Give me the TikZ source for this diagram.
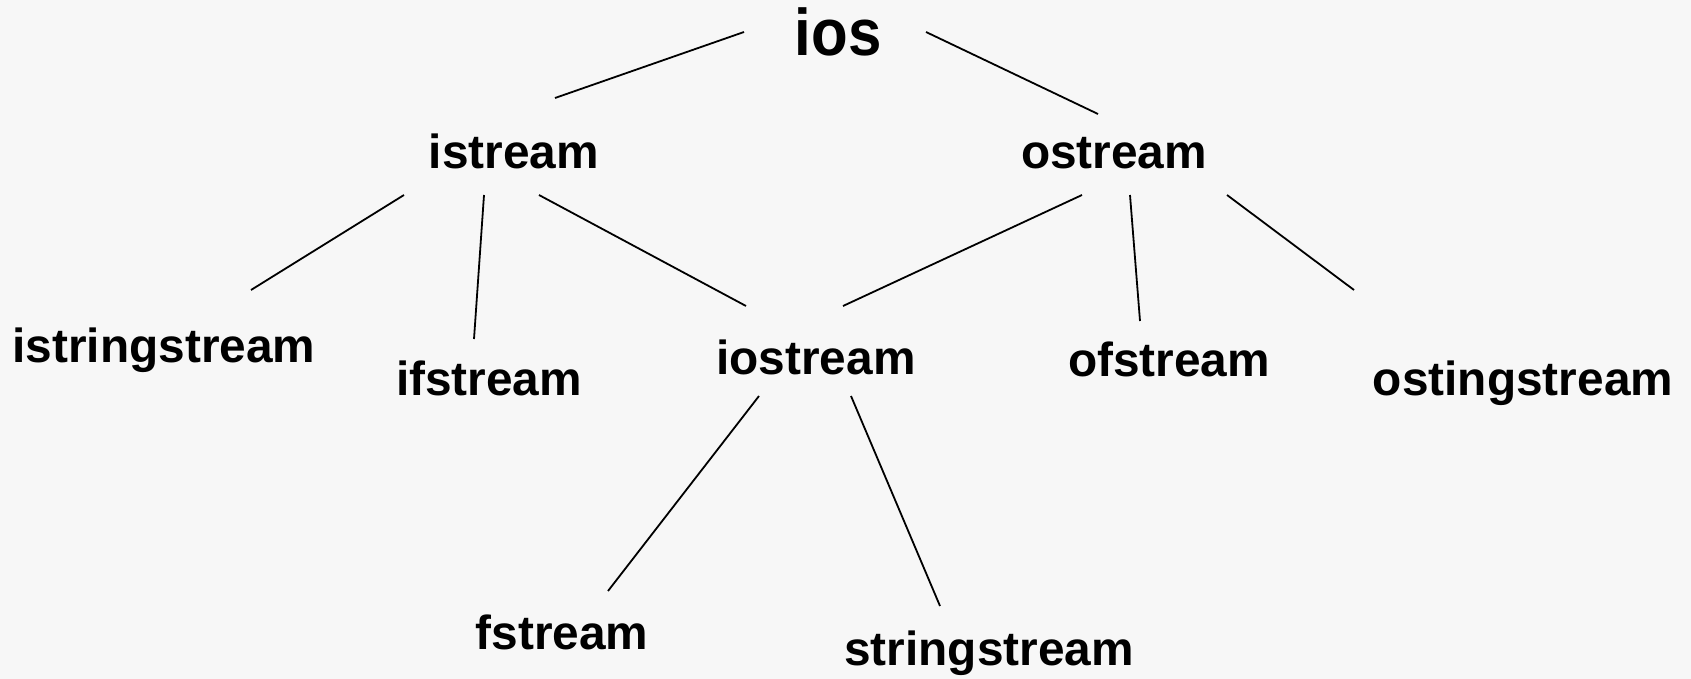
\documentclass[tikz,border=0pt]{standalone}
\usepackage{fontspec}
\setmainfont{Liberation Sans}
\definecolor{paper}{RGB}{247,247,247}
\begin{document}
\begin{tikzpicture}[x=1pt,y=-1pt,
  cls/.style={anchor=base,inner sep=0pt,font=\fontsize{47.8}{50}\selectfont\bfseries},
  root/.style={anchor=base,inner sep=0pt,font=\fontsize{60}{64}\selectfont\bfseries},
  link/.style={line width=1.8pt,black}]
  % page
  \fill[paper] (0,0) rectangle (1691,679);
  \useasboundingbox (0,0) rectangle (1691,679);

  % class names (base anchors at each text baseline)
  \node[root] (ios) at (838,56) {\scalebox{1}[1.1]{ios}};
  \node[cls] (istream) at (514,169) {istream};
  \node[cls] (ostream) at (1114,169) {ostream};
  \node[cls] (istringstream) at (164,362) {istringstream};
  \node[cls] (ifstream) at (489,395) {ifstream};
  \node[cls] (iostream) at (816,374) {iostream};
  \node[cls] (ofstream) at (1169,376) {ofstream};
  \node[cls] (ostingstream) at (1523,395) {ostingstream};
  \node[cls] (fstream) at (562,649) {fstream};
  \node[cls] (stringstream) at (989,665) {stringstream};

  % line ends
  \coordinate (ios-l) at (744,32);
  \coordinate (ios-r) at (926,32);
  \coordinate (istream-t) at (555,98);
  \coordinate (ostream-t) at (1098,114);
  \coordinate (istream-bl) at (404,195);
  \coordinate (istream-bm) at (484,195);
  \coordinate (istream-br) at (539,195);
  \coordinate (ostream-bl) at (1082,195);
  \coordinate (ostream-bm) at (1130,195);
  \coordinate (ostream-br) at (1227,195);
  \coordinate (istringstream-t) at (251,290);
  \coordinate (ifstream-t) at (474,339);
  \coordinate (iostream-tl) at (746,306);
  \coordinate (iostream-tr) at (843,306);
  \coordinate (ofstream-t) at (1140,321);
  \coordinate (ostingstream-t) at (1354,290);
  \coordinate (iostream-bl) at (759,396);
  \coordinate (iostream-br) at (851,396);
  \coordinate (fstream-t) at (608,591);
  \coordinate (stringstream-t) at (940,606);

  % inheritance links
  \draw[link] (ios-l) -- (istream-t);
  \draw[link] (ios-r) -- (ostream-t);
  \draw[link] (istream-bl) -- (istringstream-t);
  \draw[link] (istream-bm) -- (ifstream-t);
  \draw[link] (istream-br) -- (iostream-tl);
  \draw[link] (ostream-bl) -- (iostream-tr);
  \draw[link] (ostream-bm) -- (ofstream-t);
  \draw[link] (ostream-br) -- (ostingstream-t);
  \draw[link] (iostream-bl) -- (fstream-t);
  \draw[link] (iostream-br) -- (stringstream-t);
\end{tikzpicture}
\end{document}
